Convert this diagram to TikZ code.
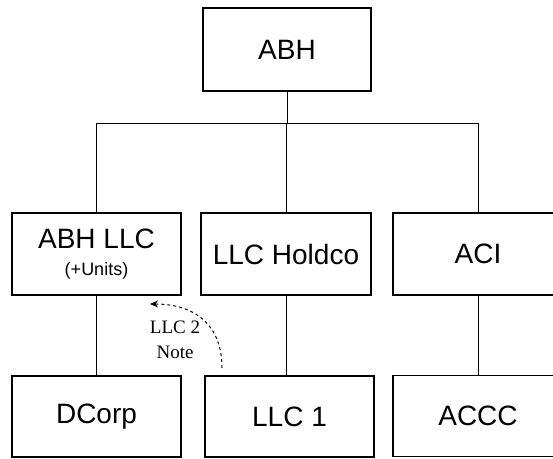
\documentclass[tikz,border=0pt]{standalone}
\usepackage{fontspec}
\setmainfont{Liberation Sans}
\newfontfamily\notefont{Liberation Serif}
\usetikzlibrary{arrows.meta}
\begin{document}
\begin{tikzpicture}[x=1pt,y=-1pt,
  orgbox/.style={draw=black,line width=1.7pt,rectangle,inner sep=0pt,
    minimum width=169pt,minimum height=82pt,align=center,
    font=\fontsize{28}{32}\selectfont},
  conn/.style={draw=black,line width=0.9pt},
  notearrow/.style={draw=black,line width=1pt,dash pattern=on 3pt off 3pt,
    -{Stealth[length=8pt,width=7pt]}}]
\useasboundingbox (0,0) rectangle (553,458);
\node[orgbox,minimum width=168pt,minimum height=83pt] (abh) at (287,49.5) {ABH};
\node[orgbox] (abhllc) at (96.5,254) {ABH LLC\\[-5pt]{\fontsize{18}{20}\selectfont (+Units)}};
\node[orgbox,minimum width=170pt] (holdco) at (286,254) {LLC Holdco};
\node[orgbox,minimum height=81pt] (dcorp) at (96.5,416.5) {DCorp};
\node[orgbox,minimum height=81pt] (llc1) at (289.5,416.5) {LLC 1};
\node[orgbox,minimum width=170pt] (aci) at (478,254) {ACI};
\node[orgbox,minimum width=170pt,minimum height=81pt] (accc) at (478,416) {ACCC};
\coordinate (busl) at (96.5,123);
\coordinate (busr) at (478,123);
\draw[conn] (abh.south) -- (abh.south |- busl);
\draw[conn] (busl) -- (busr);
\draw[conn] (busl) -- (abhllc.north);
\draw[conn] (busr) -- (aci.north);
\draw[conn] (holdco.north |- busl) -- (holdco.north);
\draw[conn] (abhllc.south) -- (dcorp.north);
\draw[conn] (holdco.south) -- (holdco.south |- llc1.north);
\draw[conn] (aci.south) -- (accc.north);
\node[font=\notefont\fontsize{19}{25}\selectfont,align=center,inner sep=0pt] (note) at (175,340) {LLC 2\\Note};
\coordinate (arrs) at (222,368);
\coordinate (arre) at (150,304);
\draw[notearrow] (arrs) .. controls (222,325) and (195,304) .. (arre);
\end{tikzpicture}
\end{document}
